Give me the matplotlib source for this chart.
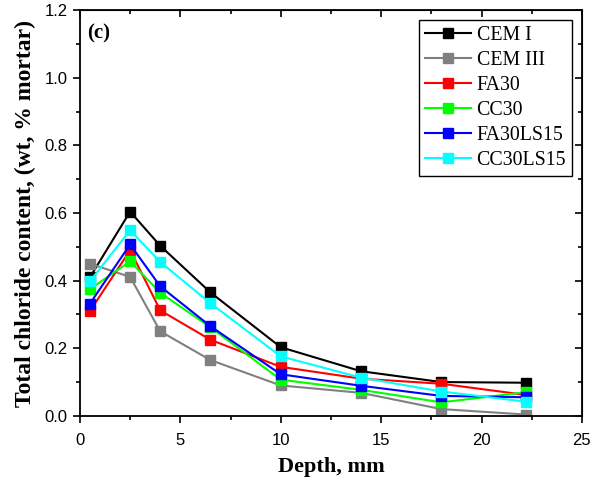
import matplotlib
matplotlib.use("Agg")
import matplotlib.pyplot as plt
from matplotlib.ticker import MultipleLocator

depth = [0.5, 2.5, 4, 6.5, 10, 14, 18, 22.2]
cem1 = [0.41, 0.604, 0.503, 0.365, 0.203, 0.132, 0.100, 0.098]
cem3 = [0.45, 0.411, 0.250, 0.165, 0.090, 0.068, 0.020, 0.004]
fa30 = [0.31, 0.490, 0.312, 0.225, 0.145, 0.110, 0.095, 0.062]
cc30 = [0.375, 0.457, 0.364, 0.262, 0.107, 0.077, 0.040, 0.070]
fa30ls15 = [0.332, 0.507, 0.383, 0.265, 0.123, 0.089, 0.059, 0.055]
cc30ls15 = [0.398, 0.549, 0.455, 0.333, 0.176, 0.113, 0.072, 0.042]

series = [
    ("CEM I", cem1, "black"),
    ("CEM III", cem3, "#808080"),
    ("FA30", fa30, "red"),
    ("CC30", cc30, "#00ff00"),
    ("FA30LS15", fa30ls15, "blue"),
    ("CC30LS15", cc30ls15, "cyan"),
]

fig = plt.figure(figsize=(5.92, 4.83), dpi=100)
ax = fig.add_axes([0.135, 0.139, 0.848, 0.840])

for name, vals, col in series:
    ax.plot(depth, vals, color=col, lw=1.5, marker="s", ms=7, label=name)

ax.set_xlim(0, 25)
ax.set_ylim(0, 1.2)
ax.xaxis.set_major_locator(MultipleLocator(5))
ax.xaxis.set_minor_locator(MultipleLocator(2.5))
ax.yaxis.set_major_locator(MultipleLocator(0.2))
ax.yaxis.set_minor_locator(MultipleLocator(0.1))
ax.yaxis.set_major_formatter(matplotlib.ticker.FormatStrFormatter("%.1f"))
ax.tick_params(which="major", direction="out", length=5, width=1.2, labelsize=12)
ax.tick_params(which="minor", direction="out", length=3, width=1.2)
ax.tick_params(axis="x", which="major", pad=7)
ax.tick_params(axis="y", which="major", pad=4)
for lab in ax.get_xticklabels() + ax.get_yticklabels():
    lab.set_family("Liberation Sans")
for sp in ax.spines.values():
    sp.set_linewidth(1.3)

# mirrored ticks pointing inward on top and right
top = ax.secondary_xaxis("top")
top.xaxis.set_major_locator(MultipleLocator(5))
top.xaxis.set_minor_locator(MultipleLocator(2.5))
top.tick_params(which="major", direction="in", length=5, width=1.2, labeltop=False)
top.tick_params(which="minor", direction="in", length=3, width=1.2)
right = ax.secondary_yaxis("right")
right.yaxis.set_major_locator(MultipleLocator(0.2))
right.yaxis.set_minor_locator(MultipleLocator(0.1))
right.tick_params(which="major", direction="in", length=5, width=1.2, labelright=False)
right.tick_params(which="minor", direction="in", length=3, width=1.2)

ax.set_xlabel("Depth, mm", family="Liberation Serif", fontweight="bold",
              fontsize=16, labelpad=7)
ax.set_ylabel("Total chloride content, (wt, % mortar)", family="Liberation Serif",
              fontweight="bold", fontsize=17, labelpad=6)
ax.text(0.014, 0.967, "(c)", transform=ax.transAxes, family="Liberation Serif",
        fontweight="bold", fontsize=15, va="top")

leg = ax.legend(loc="upper right", prop={"family": "Liberation Serif", "size": 14.3},
                fancybox=False, edgecolor="black", framealpha=1,
                handlelength=2.3, borderaxespad=0.5, labelspacing=0.3,
                handletextpad=0.3, borderpad=0.3)
leg.get_frame().set_linewidth(1.0)

fig.savefig("out.png", dpi=100)
